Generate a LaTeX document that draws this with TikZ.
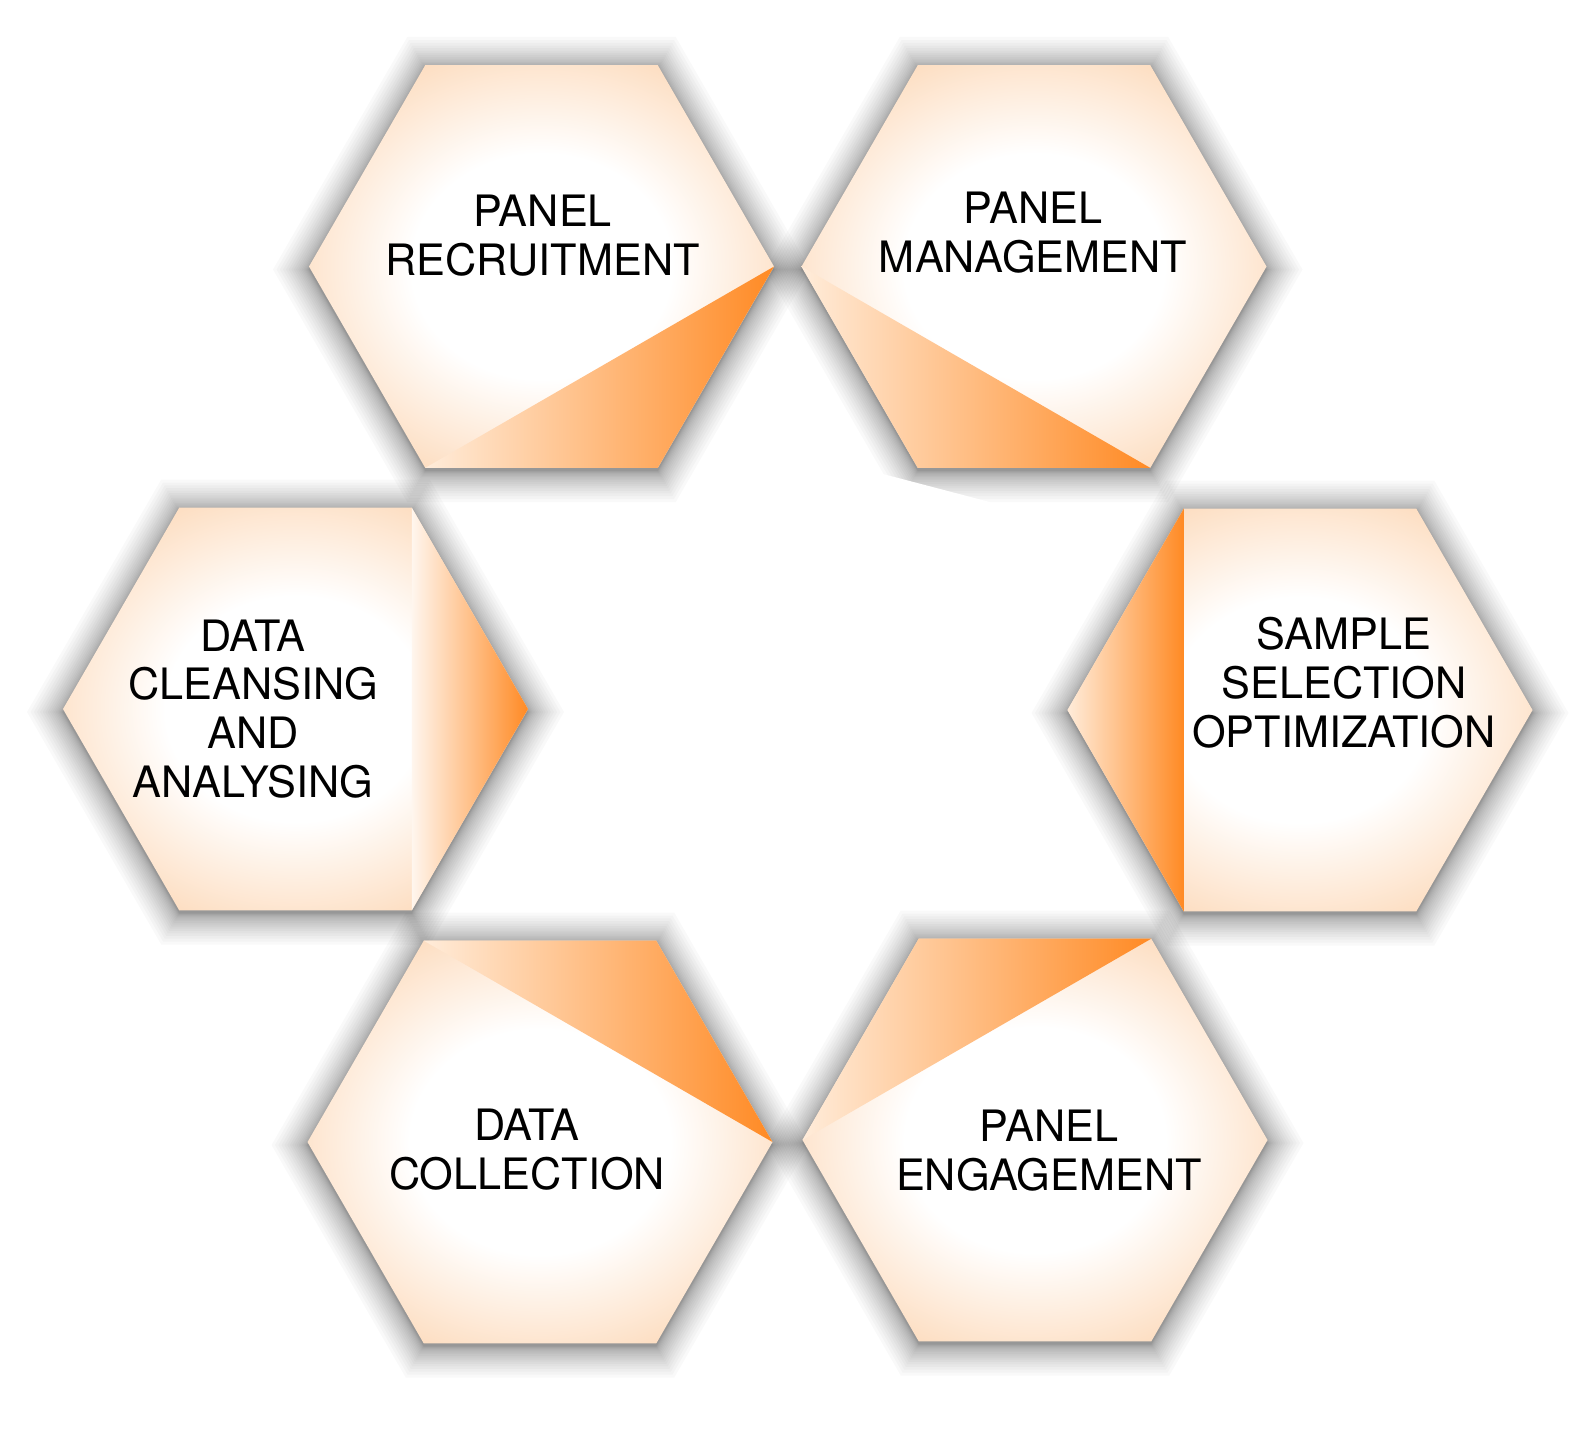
\documentclass[tikz,border=0pt]{standalone}
\usepackage{fontspec}
\setmainfont{TeX Gyre Heros}
\definecolor{peach}{RGB}{253,222,194}
\definecolor{hexorange}{RGB}{255,138,36}
\definecolor{wlight}{RGB}{255,236,218}
\definecolor{wlighter}{RGB}{255,246,238}
\pgfdeclareradialshading{hexfill}{\pgfpoint{0bp}{0bp}}{color(0bp)=(white); color(14bp)=(white); color(28bp)=(peach); color(50bp)=(peach)}
\newcommand\hexpath[1]{(-#1,0) -- (-#1/2,-0.8660*#1) -- (#1/2,-0.8660*#1) -- (#1,0) -- (#1/2,0.8660*#1) -- (-#1/2,0.8660*#1) -- cycle}
\newcommand\hexcoords[3]{%
  \coordinate (#1) at (#2,#3);
  \coordinate (#1-L) at (#2-232.5,#3);
  \coordinate (#1-R) at (#2+232.5,#3);
  \coordinate (#1-TL) at (#2-116.25,#3-201.35);
  \coordinate (#1-TR) at (#2+116.25,#3-201.35);
  \coordinate (#1-BL) at (#2-116.25,#3+201.35);
  \coordinate (#1-BR) at (#2+116.25,#3+201.35);
}
\tikzset{
  lbl/.style={font=\fontsize{12.3}{13.9}\selectfont, align=center, inner sep=0pt, text=black},
  wedge/.style={left color=wlight, right color=hexorange},
  shadowlayer/.style={fill=black, opacity=0.025}
}
\begin{document}
\begin{tikzpicture}[x=0.01cm, y=-0.01cm]
\useasboundingbox (0,0) rectangle (1580,1444);
\fill[white] (0,0) rectangle (1580,1444);
\hexcoords{h1}{541.5}{266.5}
\hexcoords{h2}{1034}{266.5}
\hexcoords{h3}{1300}{710}
\hexcoords{h4}{1035}{1140}
\hexcoords{h5}{540}{1142}
\hexcoords{h6}{295.5}{709}
% shadows
\foreach \c in {h1,h2,h3,h4,h5,h6}{
  \begin{scope}[shift={(\c)}, shift={(0,3)}]
    \foreach \k in {1,...,20}{
      \pgfmathsetmacro\rr{232.5+0.09*\k*\k}
      \fill[shadowlayer] \hexpath{\rr};
    }
  \end{scope}
}
\fill[white] (780,447) -- (1005,506) -- (1005,545) -- (780,545) -- cycle;
% hexagon bodies
\foreach \c in {h1,h2,h3,h4,h5,h6}{
  \begin{scope}[shift={(\c)}]
    \shade[shading=hexfill] \hexpath{232.5};
  \end{scope}
}
% orange wedges
\shade[wedge] (h1-R) -- (h1-BR) -- (h1-BL) -- cycle;
\shade[wedge] (h2-L) -- (h2-BL) -- (h2-BR) -- cycle;
\shade[wedge] (h3-TL) -- (h3-L) -- (h3-BL) -- cycle;
\shade[wedge] (h4-L) -- (h4-TL) -- (h4-TR) -- cycle;
\shade[wedge] (h5-TL) -- (h5-TR) -- (h5-R) -- cycle;
\shade[wedge, left color=wlighter] (h6-TR) -- (h6-R) -- (h6-BR) -- cycle;
% labels
\node[lbl] (t1) at (542.7,235.4) {PANEL\\RECRUITMENT};
\node[lbl] (t2) at (1033,233) {PANEL\\MANAGEMENT};
\node[lbl] (t3) at (1344,683) {SAMPLE\\SELECTION\\OPTIMIZATION};
\node[lbl] (t4) at (1049,1151) {PANEL\\ENGAGEMENT};
\node[lbl] (t5) at (527,1150) {DATA\\COLLECTION};
\node[lbl] (t6) at (253,709) {DATA\\CLEANSING\\AND\\ANALYSING};
\end{tikzpicture}
\end{document}
